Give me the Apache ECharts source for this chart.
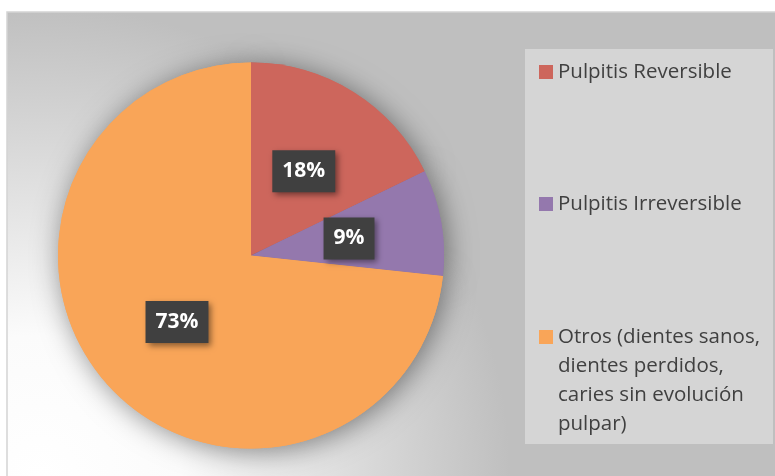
<!DOCTYPE html>
<html>
<head>
<meta charset="utf-8">
<script src="https://cdn.jsdelivr.net/npm/echarts@6/dist/echarts.min.js"></script>
<style>
  html, body { margin: 0; padding: 0; background: #fff; }
  #chart { width: 775px; height: 476px; }
</style>
</head>
<body>
<div id="chart"></div>
<script>
(function () {
    // categorias
    var categorias = [
        'Pulpitis Reversible',
        'Pulpitis Irreversible',
        'Otros (dientes sanos,\ndientes perdidos,\ncaries sin evolución\npulpar)'
    ];
    // porcentajes
    var valores = [17.8, 8.9, 73.3];
    var colores = ['#cd665c', '#9478ad', '#f9a558'];

    var seriesData = [];
    for (var i = 0; i < categorias.length; i++) {
        seriesData.push({ name: categorias[i], value: valores[i] });
    }

    function makeLegend(name, top, formatter) {
        return {
            orient: 'vertical',
            left: 539,
            top: top,
            padding: 0,
            itemWidth: 14,
            itemHeight: 14,
            icon: 'rect',
            selectedMode: false,
            data: [name],
            formatter: formatter || '{name}',
            textStyle: {
                fontFamily: 'Open Sans',
                fontSize: 20.5,
                lineHeight: 29,
                color: '#404040'
            }
        };
    }

    var myChart = echarts.init(document.getElementById('chart'));
    var option = {
        animation: false,
        color: colores,
        graphic: [
            {
                type: 'rect',
                z: -10,
                shape: { x: 7, y: 12, width: 770, height: 466 },
                style: {
                    fill: {
                        type: 'radial', x: 40, y: 476, r: 470, global: true,
                        colorStops: [
                            { offset: 0, color: '#ffffff' },
                            { offset: 0.3, color: '#fbfbfb' },
                            { offset: 1, color: '#bfbfbf' }
                        ]
                    },
                    stroke: '#d3d3d3',
                    lineWidth: 1.5
                }
            },
            {
                type: 'rect',
                z: -9,
                shape: { x: 525, y: 49, width: 248, height: 395 },
                style: { fill: '#d5d5d5' }
            }
        ],
        legend: [
            makeLegend(categorias[0], 57.5),
            makeLegend(categorias[1], 189.5),
            // lineas vacias para alinear el icono con la primera linea
            makeLegend(categorias[2], 235.5, function (name) { return '\n\n\n' + name; })
        ],
        series: [
            {
                type: 'pie',
                z: 3,
                center: [251, 255.5],
                radius: 193,
                startAngle: 90,
                percentPrecision: 0,
                emphasis: { disabled: true },
                labelLine: { show: false },
                label: {
                    show: true,
                    position: 'inside',
                    formatter: '{d}%',
                    fontFamily: 'Open Sans',
                    fontWeight: 'bold',
                    fontSize: 21,
                    lineHeight: 22,
                    color: '#ffffff',
                    backgroundColor: '#404040',
                    padding: [10, 10],
                    shadowColor: 'rgba(0,0,0,0.45)',
                    shadowBlur: 6,
                    shadowOffsetX: 3,
                    shadowOffsetY: 3
                },
                data: seriesData
            },
            {
                // sombra del pastel
                type: 'pie',
                z: 1,
                silent: true,
                center: [251, 255.5],
                radius: 193,
                startAngle: 90,
                label: { show: false },
                labelLine: { show: false },
                itemStyle: {
                    shadowColor: 'rgba(0,0,0,0.45)',
                    shadowBlur: 28,
                    shadowOffsetX: 3,
                    shadowOffsetY: 3
                },
                data: seriesData
            }
        ]
    };
    myChart.setOption(option);
})();
</script>
</body>
</html>
